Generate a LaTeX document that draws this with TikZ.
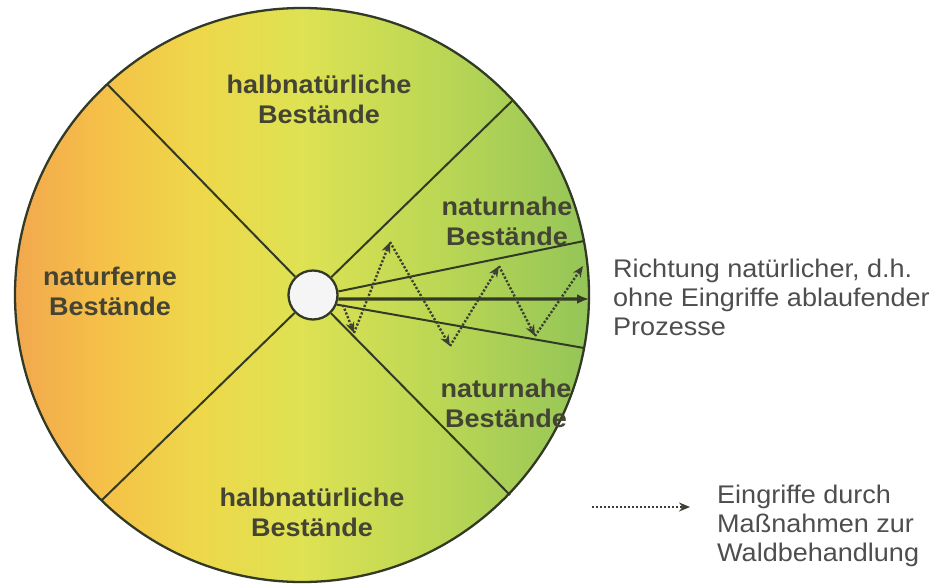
\documentclass[tikz,border=0pt]{standalone}
\usepackage{fontspec}
\setmainfont{Liberation Sans}[FakeStretch=1.06]
\usetikzlibrary{arrows.meta}

\definecolor{rim}{RGB}{50,58,38}
\definecolor{labeltext}{RGB}{68,68,52}
\definecolor{notetext}{RGB}{78,78,78}
\definecolor{dotline}{RGB}{60,64,52}

\pgfdeclarehorizontalshading{bestand}{100bp}{%
  rgb(0bp)=(0.949,0.659,0.306);
  rgb(25bp)=(0.949,0.659,0.306);
  rgb(32.5bp)=(0.961,0.753,0.282);
  rgb(41bp)=(0.933,0.847,0.290);
  rgb(50bp)=(0.870,0.886,0.325);
  rgb(61bp)=(0.745,0.847,0.329);
  rgb(75bp)=(0.580,0.773,0.345);
  rgb(100bp)=(0.580,0.773,0.345)}

\begin{document}
\begin{tikzpicture}[x=1pt, y=-1pt,
        stand/.style={font=\fontsize{25.5}{30}\selectfont\bfseries, text=labeltext, align=center, inner sep=0pt},
        note/.style={font=\fontsize{25.5}{29}\selectfont, text=notetext, align=left, anchor=west, inner sep=0pt},
        divider/.style={draw=rim, line width=2pt},
        eingriff/.style={draw=dotline, dash pattern=on 2.2pt off 1.8pt, line width=2.4pt, -{Stealth[length=11pt,width=9pt]}}]
        \useasboundingbox (0,0) rectangle (945,584);
        % big disc
        \path[shading=bestand, draw=rim, line width=2.3pt] (302,295) circle [radius=287pt];
        \coordinate (rimUL) at (107,84);
        \coordinate (rimUR) at (512,101);
        \coordinate (rimLL) at (102,500);
        \coordinate (rimLR) at (510,495);
        \coordinate (rimNU) at (584,241);
        \coordinate (rimNL) at (584,348);
        \coordinate (rimAR) at (589,299);
        \node[draw=rim, line width=2.3pt, fill=gray!8, circle, minimum size=49pt, inner sep=0pt] (hub) at (313,295) {};
        \draw[divider] (hub) -- (rimUL);
        \draw[divider] (hub) -- (rimUR);
        \draw[divider] (hub) -- (rimLL);
        \draw[divider] (hub) -- (rimLR);
        \draw[divider] (hub.8) -- (rimNU);
        \draw[divider] (hub.-22) -- (rimNL);
        \draw[draw=rim, line width=3.4pt, -{Latex[length=12pt,width=10pt]}] (hub.-9) -- (rimAR);
        % zigzag
        \coordinate (z0) at (343,305);
        \coordinate (z1) at (354,333);
        \coordinate (z2) at (390,242);
        \coordinate (z3) at (450,346);
        \coordinate (z4) at (499,266);
        \coordinate (z5) at (535,336);
        \coordinate (z6) at (583,266);
        \draw[eingriff] (z0) -- (z1);
        \draw[eingriff] (z1) -- (z2);
        \draw[eingriff] (z2) -- (z3);
        \draw[eingriff] (z3) -- (z4);
        \draw[eingriff] (z4) -- (z5);
        \draw[eingriff] (z5) -- (z6);
        % sectors
        \node[stand] (halbOben) at (319,99) {halbnatürliche\\Bestände};
        \node[stand] (nahOben) at (507,221) {naturnahe\\Bestände};
        \node[stand] (nahUnten) at (506,403) {naturnahe\\Bestände};
        \node[stand] (fern) at (110,291) {naturferne\\Bestände};
        \node[stand] (halbUnten) at (312,512) {halbnatürliche\\Bestände};
        % right side
        \node[note] (richtung) at (613,297) {Richtung natürlicher, d.h.\\ohne Eingriffe ablaufender\\Prozesse};
        \coordinate (legA) at (592,507);
        \coordinate (legB) at (690,507);
        \draw[eingriff] (legA) -- (legB);
        \node[note] (legende) at (717,526) {Eingriffe durch\\Maßnahmen zur\\Waldbehandlung};
\end{tikzpicture}
\end{document}
